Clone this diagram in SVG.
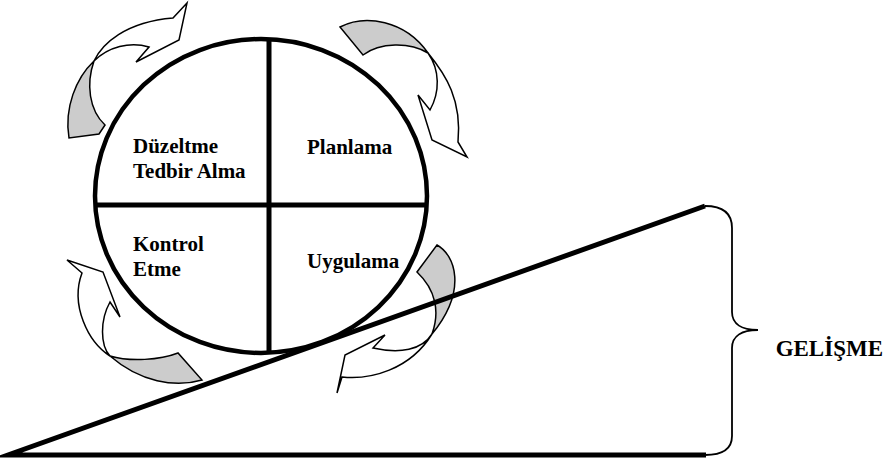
<svg xmlns="http://www.w3.org/2000/svg" width="891" height="464" viewBox="0 0 891 464">
<style>
.w{fill:#fff;stroke:#000;stroke-width:1.5;stroke-linejoin:miter}
.g{fill:#cccccc;stroke:#000;stroke-width:1.5;stroke-linejoin:miter}
.thick{fill:none;stroke:#000;stroke-width:5}
.t{font-family:'Liberation Serif','DejaVu Serif',serif;font-weight:700;font-size:21px;fill:#000}
</style>
<rect width="891" height="464" fill="#fff"/>
<g id="connectors">
  <g id="arrow-top-left">
    <path class="g" d="M94,61 C76,78 64,108 69,138 L99,134 L105,125 C89,110 86,84 94,61 Z"/>
    <path class="w" d="M94,61 C102,44 125,22 173,18 L187,3 L179,40 L136,62 L149,47 C130,41 108,47 94,61 Z"/>
  </g>
  <g id="arrow-top-right">
    <path class="g" d="M340,27 C365,14 405,20 428,53 C410,42 380,42 363,55 Z"/>
    <path class="w" d="M428,53 C446,75 462,100 458,142 L467,157 L432,140 L418,95 L430,110 C440,92 440,70 428,53 Z"/>
  </g>
  <g id="arrow-bottom-left">
    <path class="w" d="M82,273 L67,260 L103,272 L120,317 L110,302 C100,320 100,345 110,356 C88,342 70,305 82,273 Z"/>
    <path class="g" d="M110,356 C130,362 160,360 178,353 L202,380 C175,388 140,382 110,356 Z"/>
  </g>
  <g id="arrow-bottom-right">
    <path class="g" d="M437,245 C455,255 468,290 432,334 C440,312 436,290 417,272 Z"/>
    <path class="w" d="M432,334 C422,350 400,354 373,348 L385,335 L345,355 L337,393 L342,377 C370,380 410,370 432,334 Z"/>
  </g>
</g>
<g id="cycle">
  <ellipse cx="261" cy="196" rx="166" ry="157" fill="none" stroke="#000" stroke-width="4.5"/>
  <line x1="269" y1="39" x2="269" y2="353" stroke="#000" stroke-width="5"/>
  <line x1="95" y1="205" x2="427" y2="205" stroke="#000" stroke-width="5"/>
</g>
<g id="q-duzeltme"><text class="t" x="133" y="153">Düzeltme</text><text class="t" x="133" y="178">Tedbir Alma</text></g>
<g id="q-planlama"><text class="t" x="307" y="154">Planlama</text></g>
<g id="q-kontrol"><text class="t" x="133" y="251">Kontrol</text><text class="t" x="133" y="276">Etme</text></g>
<g id="q-uygulama"><text class="t" x="307" y="268">Uygulama</text></g>
<g id="gelisme"><text class="t" x="883" y="356" style="font-size:23px" text-anchor="end">GELİŞME</text></g>
<g id="slope">
  <path class="thick" d="M705,206 L8,455 L706,455" stroke-miterlimit="12"/>
</g>
<g id="brace">
  <path d="M705,206 C722,206 732,212 732,228 L732,312 C732,324 742,330 758,330 C742,330 732,336 732,348 L732,436 C732,450 722,455 705,455" fill="none" stroke="#000" stroke-width="1.8"/>
</g>
</svg>
